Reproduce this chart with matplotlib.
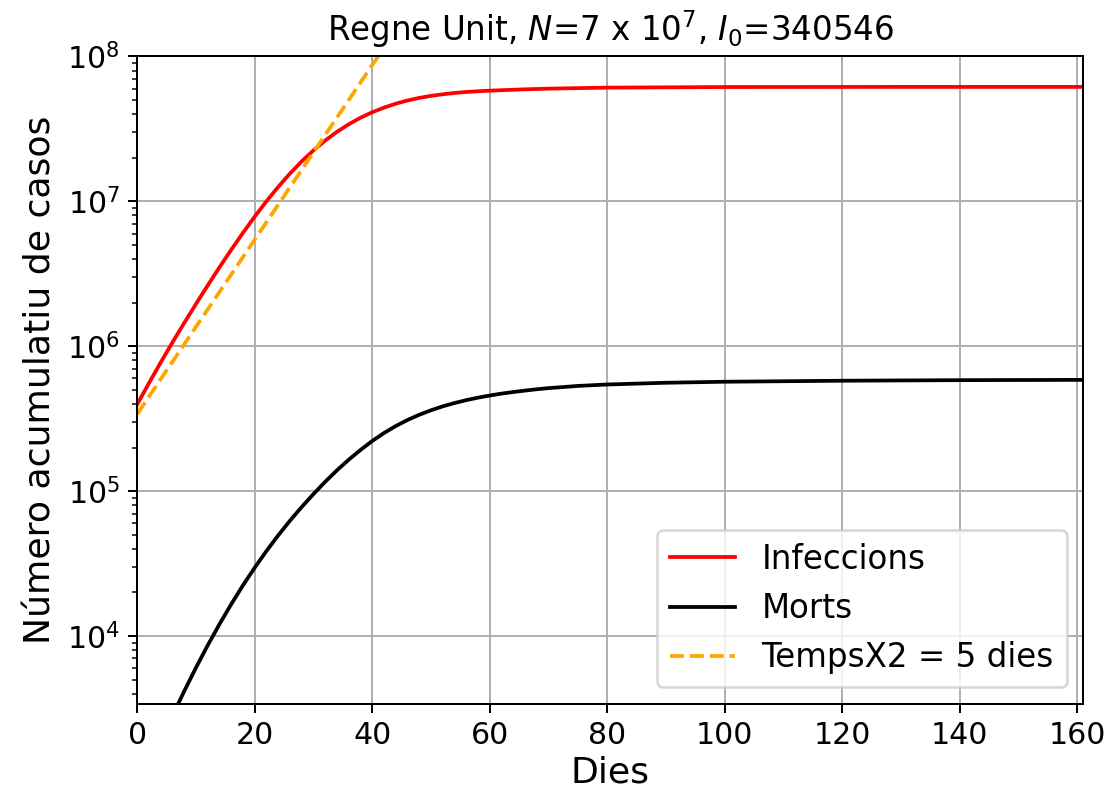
import matplotlib
matplotlib.use("Agg")
import matplotlib.pyplot as plt

# Cumulative infections
inf_days = [0, 2, 4, 6, 8, 10, 12, 14, 16, 18, 20, 22, 24, 26, 28, 30, 32, 34, 36, 38,
            40, 42, 44, 46, 48, 50, 52, 54, 56, 58, 60, 65, 70, 80, 100, 130, 161]
inf_vals = [3.98e5, 5.57e5, 7.74e5, 1.064e6, 1.449e6, 1.959e6, 2.630e6, 3.508e6, 4.634e6,
            6.067e6, 7.852e6, 1.002e7, 1.259e7, 1.556e7, 1.888e7, 2.249e7, 2.630e7, 3.020e7,
            3.404e7, 3.776e7, 4.121e7, 4.436e7, 4.721e7, 4.966e7, 5.176e7, 5.346e7, 5.483e7,
            5.598e7, 5.689e7, 5.754e7, 5.808e7, 5.916e7, 5.998e7, 6.095e7, 6.152e7, 6.166e7,
            6.166e7]

# Cumulative deaths
death_days = [6, 8, 10, 12, 14, 16, 18, 20, 22, 24, 26, 28, 30, 32, 34, 36, 38, 40,
              42, 44, 46, 48, 50, 52, 54, 56, 58, 60, 62, 64, 66, 68, 70, 75, 80, 90,
              100, 120, 140, 161]
death_vals = [2818, 4169, 6053, 8630, 1.208e4, 1.660e4, 2.239e4, 2.965e4, 3.864e4, 4.955e4,
              6.252e4, 7.780e4, 9.550e4, 1.161e5, 1.393e5, 1.648e5, 1.923e5, 2.218e5,
              2.518e5, 2.812e5, 3.097e5, 3.365e5, 3.614e5, 3.846e5, 4.055e5, 4.246e5,
              4.416e5, 4.571e5, 4.710e5, 4.831e5, 4.943e5, 5.047e5, 5.140e5, 5.321e5,
              5.445e5, 5.598e5, 5.689e5, 5.781e5, 5.834e5, 5.861e5]

# Doubling-time reference line (TempsX2 = 5 dies), endpoints
dbl_days = [0, 45]
dbl_vals = [3.40546e5, 1.74359552e8]

xlim = (0, 161)
ylim = (3420, 1e8)

fig = plt.figure(figsize=(1115 / 180, 792 / 180), dpi=180)
ax = fig.add_axes([0.1231, 0.1117, 0.9713 - 0.1231, 0.9287 - 0.1117])

ax.plot(inf_days, inf_vals, color="red", lw=1.5, label="Infeccions")
ax.plot(death_days, death_vals, color="black", lw=1.5, label="Morts")
ax.plot(dbl_days, dbl_vals, color="orange", ls="--", lw=1.5, label="TempsX2 = 5 dies")

ax.set_yscale("log")
ax.set_xlim(*xlim)
ax.set_ylim(*ylim)
ax.set_xticks([0, 20, 40, 60, 80, 100, 120, 140, 160])
ax.grid(True)
ax.tick_params(axis="both", which="major", labelsize=12)

ax.set_xlabel("Dies", fontsize=14.5, labelpad=2)
ax.set_ylabel("Número acumulatiu de casos", fontsize=14.5)
ax.set_title(r"Regne Unit, $N$=7 x 10$^7$, $I_0$=340546", fontsize=13)
ax.legend(loc="lower right", fontsize=13)

fig.savefig("out.png", dpi=180)
